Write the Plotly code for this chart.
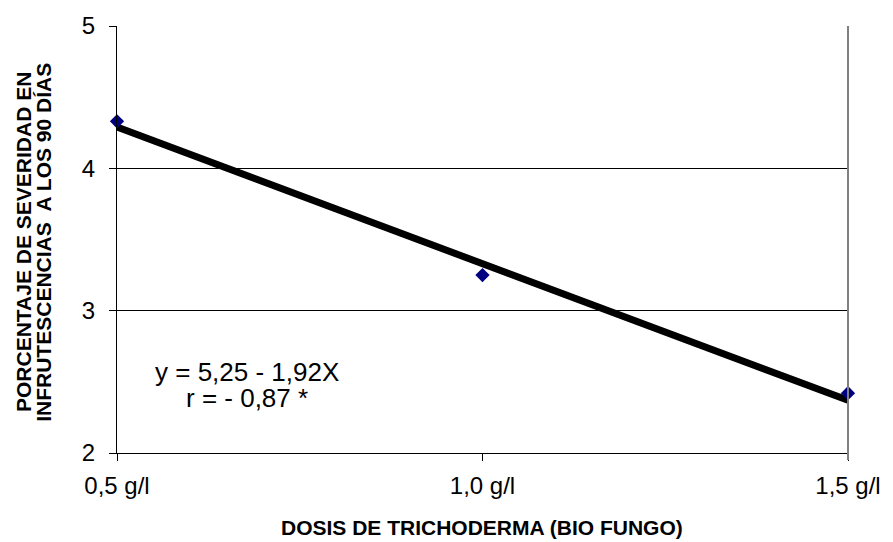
import plotly.graph_objects as go

# Data
dose_vals = [0.5, 1.0, 1.5]
dose_labels = ["0,5 g/l", "1,0 g/l", "1,5 g/l"]
severity = [4.33, 3.25, 2.42]
fit_intercept = 5.25
fit_slope = -1.92
fit_x = [0.5, 1.5]
fit_y = [fit_intercept + fit_slope * x for x in fit_x]
y_ticks = [2, 3, 4, 5]
eq_lines = ["y = 5,25 - 1,92X", "r = - 0,87 *"]
ytitle_lines = ["PORCENTAJE DE SEVERIDAD EN", "INFRUTESCENCIAS  A LOS 90 DÍAS"]
xtitle = "DOSIS DE TRICHODERMA (BIO FUNGO)"

FONT = "Liberation Sans, Arial, sans-serif"
L, R, T, B = 117, 856, 24, 453
W, H = R - L, B - T

def px(x):
    return (x - L) / W

def py(y):
    return (B - y) / H

fig = go.Figure()
fig.add_trace(go.Scatter(x=fit_x, y=fit_y, mode="lines",
                         line=dict(color="black", width=7), hoverinfo="skip",
                         showlegend=False))
fig.add_trace(go.Scatter(x=dose_vals, y=severity, mode="markers",
                         marker=dict(symbol="diamond", size=11, color="#000080"),
                         showlegend=False, cliponaxis=False))

fig.update_layout(
    width=893, height=542,
    margin=dict(l=L, r=893 - R, t=T, b=542 - B),
    plot_bgcolor="white", paper_bgcolor="white",
    font=dict(family=FONT, color="black"),
    xaxis=dict(range=[0.5, 1.5], tickvals=dose_vals, ticktext=dose_labels,
               showgrid=False, zeroline=False, showline=True, linecolor="black",
               linewidth=1, ticks="outside", ticklen=7, tickcolor="black",
               tickfont=dict(size=24), ticklabelstandoff=4),
    yaxis=dict(range=[2, 5], tickvals=y_ticks, showgrid=True, gridcolor="black",
               gridwidth=1, zeroline=False, showline=True, linecolor="black",
               linewidth=1, ticks="outside", ticklen=7, tickcolor="black",
               tickfont=dict(size=24), ticklabelstandoff=9),
)

fig.add_shape(type="line", xref="paper", yref="paper", x0=1, x1=1,
              y0=-7 / H, y1=1, line=dict(color="#808080", width=2))

fig.add_annotation(xref="paper", yref="paper", x=px(486), y=py(528),
                   text="<b>" + xtitle + "</b>", showarrow=False,
                   font=dict(size=21), xanchor="center", yanchor="middle")
for xc, line in zip([23, 43], ytitle_lines):
    fig.add_annotation(xref="paper", yref="paper", x=px(xc), y=py(241),
                       text="<b>" + line + "</b>", showarrow=False, textangle=-90,
                       font=dict(size=21), xanchor="center", yanchor="middle")
for yc, line in zip([372, 398], eq_lines):
    fig.add_annotation(xref="paper", yref="paper", x=px(248), y=py(yc),
                       text=line, showarrow=False, font=dict(size=26),
                       xanchor="center", yanchor="middle")

fig.write_html("out.html", config={"displayModeBar": False},
               post_script="document.body.style.margin='0';document.body.style.overflow='hidden';")
